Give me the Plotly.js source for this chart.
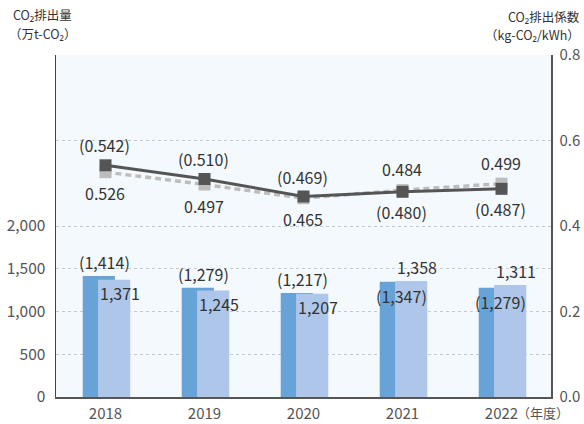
<!DOCTYPE html>
<html>
<head>
<meta charset="utf-8">
<script src="https://cdn.plot.ly/plotly-3.0.1.min.js"></script>
<style>
html,body{margin:0;padding:0;background:#fff;}
#chart{width:584px;height:424px;}
</style>
</head>
<body>
<div id="chart"></div>
<script>
const years = ['2018', '2019', '2020', '2021', '2022'];
const emissionsPlan = [1414, 1279, 1217, 1347, 1279];      // (parenthesised) dark bars
const emissionsActual = [1371, 1245, 1207, 1358, 1311];    // light bars
const factorPlan = [0.542, 0.510, 0.469, 0.480, 0.487];    // (parenthesised) dark solid line
const factorActual = [0.526, 0.497, 0.465, 0.484, 0.499];  // light dashed line
const leftTicks = [0, 500, 1000, 1500, 2000];
const leftTickText = ['0', '500', '1,000', '1,500', '2,000'];
const rightTicks = [0, 0.2, 0.4, 0.6, 0.8];
const rightTickText = ['0.0', '0.2', '0.4', '0.6', '0.8'];

const FONT = '"Noto Sans CJK JP", "Noto Sans", sans-serif';
const TXT = '#333333';
const DARK_BAR = '#68a3d8';
const LIGHT_BAR = '#adc6e9';
const DARK_LINE = '#555555';
const LIGHT_LINE = '#bdbdbd';

const fmtInt = v => v.toLocaleString('en-US');
const fmt3 = v => v.toFixed(3);

const traces = [
  {type: 'bar', x: years, y: emissionsPlan, marker: {color: DARK_BAR}, width: 0.325, offset: -0.23,
   yaxis: 'y', hoverinfo: 'skip'},
  {type: 'bar', x: years, y: emissionsActual, marker: {color: LIGHT_BAR}, width: 0.325, offset: -0.075,
   yaxis: 'y', hoverinfo: 'skip'},
  {type: 'scatter', mode: 'lines+markers', x: years, y: factorActual, yaxis: 'y2',
   line: {color: LIGHT_LINE, width: 3.5, dash: '6px,4px'},
   marker: {symbol: 'square', size: 12, color: LIGHT_LINE}, hoverinfo: 'skip'},
  {type: 'scatter', mode: 'lines+markers', x: years, y: factorPlan, yaxis: 'y2',
   line: {color: DARK_LINE, width: 3},
   marker: {symbol: 'square', size: 12, color: DARK_LINE}, hoverinfo: 'skip'}
];

const annotations = [];
const labelFont = {family: FONT, size: 16, color: TXT};
years.forEach((yr, i) => {
  // category axis: annotation x given as category index
  const bigPlan = emissionsPlan[i] >= emissionsActual[i];
  annotations.push({x: i, y: emissionsPlan[i], xref: 'x', yref: 'y',
    text: '(' + fmtInt(emissionsPlan[i]) + ')', showarrow: false, font: labelFont,
    xshift: -1, yshift: bigPlan ? 14 : -14});
  annotations.push({x: i, y: emissionsActual[i], xref: 'x', yref: 'y',
    text: fmtInt(emissionsActual[i]), showarrow: false, font: labelFont,
    xshift: 14, yshift: bigPlan ? -13 : 14});
  const fPlanHigher = factorPlan[i] >= factorActual[i];
  annotations.push({x: i, y: factorPlan[i], xref: 'x', yref: 'y2',
    text: '(' + fmt3(factorPlan[i]) + ')', showarrow: false, font: labelFont,
    xshift: -1, yshift: fPlanHigher ? 20 : -20});
  annotations.push({x: i, y: factorActual[i], xref: 'x', yref: 'y2',
    text: fmt3(factorActual[i]), showarrow: false, font: labelFont,
    xshift: -1, yshift: fPlanHigher ? -21 : 21});
});

const titleFont = {family: FONT, size: 12.5, color: TXT};
annotations.push(
  {xref: 'paper', yref: 'paper', x: 0, y: 1, xshift: -45, yshift: 41, xanchor: 'left', yanchor: 'middle',
   text: 'CO₂排出量', showarrow: false, font: titleFont},
  {xref: 'paper', yref: 'paper', x: 0, y: 1, xshift: -49, yshift: 22, xanchor: 'left', yanchor: 'middle',
   text: '（万t-CO₂）', showarrow: false, font: titleFont},
  {xref: 'paper', yref: 'paper', x: 1, y: 1, xshift: 31, yshift: 39, xanchor: 'right', yanchor: 'middle',
   text: 'CO₂排出係数', showarrow: false, font: titleFont},
  {xref: 'paper', yref: 'paper', x: 1, y: 1, xshift: 31, yshift: 21, xanchor: 'right', yanchor: 'middle',
   text: '（kg-CO₂/kWh）', showarrow: false, font: titleFont},
  {xref: 'paper', yref: 'paper', x: 1, y: 0, xshift: -36, yshift: -15, xanchor: 'left', yanchor: 'middle',
   text: '（年度）', showarrow: false, font: {family: FONT, size: 13, color: '#555'}}
);

const layout = {
  width: 584, height: 424,
  margin: {l: 56, r: 33, t: 55, b: 27},
  paper_bgcolor: '#ffffff',
  plot_bgcolor: '#f4f9fd',
  barmode: 'overlay',
  showlegend: false,
  font: {family: FONT, color: TXT},
  xaxis: {type: 'category', showgrid: false, zeroline: false,
    showline: true, linecolor: '#555555', linewidth: 2,
    ticks: '', tickfont: {family: FONT, size: 15, color: '#555'}, ticklabelstandoff: 2,
    range: [-0.5, 4.5]},
  yaxis: {range: [0, 4000], tickvals: leftTicks, ticktext: leftTickText,
    showgrid: true, gridcolor: '#c3cad1', griddash: 'dot', gridwidth: 1,
    zeroline: false, showline: true, linecolor: '#444', linewidth: 1.5,
    ticks: '', tickfont: {family: FONT, size: 15.5, color: '#555'}, ticklabelstandoff: 6},
  yaxis2: {range: [0, 0.8], tickvals: rightTicks, ticktext: rightTickText, overlaying: 'y', side: 'right',
    showgrid: true, gridcolor: '#c3cad1', griddash: 'dot', gridwidth: 1,
    zeroline: false, showline: true, linecolor: '#555', linewidth: 1.5,
    ticks: '', tickfont: {family: FONT, size: 15, color: '#555'}, ticklabelstandoff: 4},
  annotations: annotations
};

Plotly.newPlot('chart', traces, layout, {displayModeBar: false, staticPlot: true});
</script>
</body>
</html>
